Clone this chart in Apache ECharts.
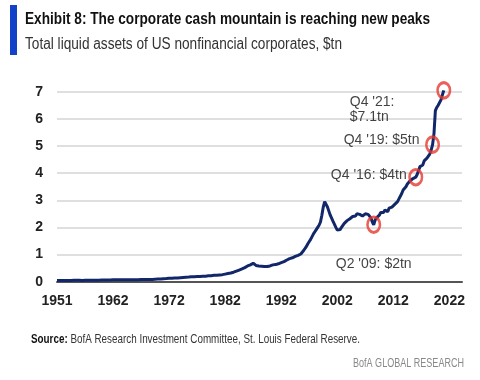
<!DOCTYPE html>
<html><head><meta charset="utf-8">
<script src="https://cdn.jsdelivr.net/npm/echarts@6/dist/echarts.min.js"></script>
<style>html,body{margin:0;padding:0;background:#fff}#c{width:480px;height:380px}</style>
</head><body><div id="c"></div>
<script>
// First point: Q4 1952, then quarterly Q1..Q4 per year up to 2021
const firstQuarter = { year: 1952, q: 4 };
const liquidAssets = [
  0.04,
  0.04,0.04,0.04,0.04,      // 1953
  0.04,0.04,0.04,0.045,     // 1954
  0.045,0.045,0.045,0.05,   // 1955
  0.05,0.05,0.045,0.05,     // 1956
  0.05,0.045,0.05,0.05,     // 1957
  0.05,0.05,0.05,0.055,     // 1958
  0.055,0.055,0.055,0.055,  // 1959
  0.055,0.055,0.055,0.06,   // 1960
  0.06,0.06,0.06,0.065,     // 1961
  0.065,0.065,0.065,0.07,   // 1962
  0.07,0.07,0.07,0.07,      // 1963
  0.07,0.07,0.07,0.075,     // 1964
  0.075,0.07,0.075,0.075,   // 1965
  0.07,0.07,0.07,0.075,     // 1966
  0.07,0.07,0.075,0.08,     // 1967
  0.08,0.08,0.08,0.085,     // 1968
  0.085,0.08,0.08,0.085,    // 1969
  0.085,0.09,0.09,0.095,    // 1970
  0.1,0.1,0.105,0.11,       // 1971
  0.11,0.115,0.12,0.125,    // 1972
  0.125,0.13,0.13,0.135,    // 1973
  0.135,0.135,0.14,0.145,   // 1974
  0.15,0.155,0.16,0.165,    // 1975
  0.17,0.17,0.175,0.18,     // 1976
  0.18,0.185,0.185,0.19,    // 1977
  0.19,0.195,0.2,0.2,       // 1978
  0.2,0.205,0.21,0.215,     // 1979
  0.215,0.22,0.23,0.235,    // 1980
  0.24,0.24,0.245,0.25,     // 1981
  0.255,0.26,0.27,0.28,     // 1982
  0.29,0.3,0.31,0.32,       // 1983
  0.33,0.35,0.37,0.39,      // 1984
  0.41,0.43,0.45,0.47,      // 1985
  0.5,0.52,0.55,0.58,       // 1986
  0.6,0.62,0.66,0.68,       // 1987
  0.64,0.6,0.62,0.58,       // 1988
  0.55,0.57,0.54,0.56,      // 1989
  0.58,0.56,0.6,0.58,       // 1990
  0.6,0.62,0.6,0.63,        // 1991
  0.64,0.66,0.68,0.7,       // 1992
  0.72,0.74,0.76,0.8,       // 1993
  0.82,0.85,0.86,0.88,      // 1994
  0.9,0.93,0.95,0.97,       // 1995
  0.98,1.02,1.08,1.15,      // 1996
  1.22,1.3,1.4,1.48,        // 1997
  1.56,1.66,1.76,1.84,      // 1998
  1.92,2.0,2.08,2.2,        // 1999
  2.45,2.75,2.95,2.88,      // 2000
  2.75,2.6,2.45,2.4,        // 2001
  2.22,2.15,2.0,1.9,        // 2002
  1.84,1.92,2.0,2.05,       // 2003
  2.15,2.2,2.25,2.3,        // 2004
  2.32,2.38,2.4,2.46,       // 2005
  2.42,2.5,2.45,2.48,       // 2006
  2.45,2.42,2.48,2.5,       // 2007
  2.52,2.48,2.45,2.35,      // 2008
  2.2,2.1,2.27,2.35,        // 2009
  2.4,2.45,2.55,2.53,       // 2010
  2.55,2.64,2.6,2.58,       // 2011
  2.71,2.68,2.75,2.8,       // 2012
  2.85,2.9,2.95,3.05,       // 2013
  3.1,3.25,3.38,3.45,       // 2014
  3.5,3.6,3.65,3.72,        // 2015
  3.75,3.8,3.78,3.85,       // 2016
  3.95,4.1,4.24,4.25,       // 2017
  4.3,4.45,4.4,4.55,        // 2018
  4.5,4.7,4.85,5.05,        // 2019
  5.45,6.3,6.42,6.5,        // 2020
  6.55,6.7,6.88,7.05        // 2021
];
const axisQuarterCount = 290;           // axis extends past last data point
const xTickLabels = ['1951','1962','1972','1982','1992','2002','2012','2022'];
const xTickEvery = 40;                  // quarters between labels
const yTicks = [0,1,2,3,4,5,6,7];
const calloutIndex = [226, 256, 268, 276];
const calloutText = ["Q2 '09: $2tn", "Q4 '16: $4tn", "Q4 '19: $5tn", "Q4 '21:\n$7.1tn"];
const calloutOffset = [[0, 39], [-47, -2], [-51, -4], [-94, 19]];
const calloutAlign = ['center', 'center', 'center', 'left'];

const categories = [];
for (let i = 0; i < axisQuarterCount; i++) {
  const k = i + firstQuarter.q - 1;
  categories.push((firstQuarter.year + Math.floor(k / 4)) + 'Q' + (k % 4 + 1));
}

const ARIAL = '"Liberation Sans", Arial, sans-serif';
const mctx = document.createElement('canvas').getContext('2d');
function textW(txt, font) { mctx.font = font; return mctx.measureText(txt).width; }
function fitScale(parts, target) {
  let w = 0; parts.forEach(p => { w += textW(p[0], p[1]); });
  return target / w;
}

const titleText = 'Exhibit 8: The corporate cash mountain is reaching new peaks';
const titleFont = 'bold 16px ' + ARIAL;
const subText = 'Total liquid assets of US nonfinancial corporates, $tn';
const subFont = '16px ' + ARIAL;
const srcBold = 'Source:';
const srcRest = ' BofA Research Investment Committee, St. Louis Federal Reserve.';
const srcBoldFont = 'bold 13.5px ' + ARIAL;
const srcFont = '13.5px ' + ARIAL;
const brandText = 'BofA GLOBAL RESEARCH';
const brandFont = '12.5px ' + ARIAL;

const chart = echarts.init(document.getElementById('c'), null, {renderer: 'canvas'});

chart.setOption({
  animation: false,
  backgroundColor: '#fff',
  grid: {left: 57, right: 18, top: 91.7, bottom: 98.3, containLabel: false},
  xAxis: {
    type: 'category',
    data: categories,
    boundaryGap: false,
    axisLine: {show: true, lineStyle: {color: '#555', width: 2}},
    axisTick: {show: false},
    axisLabel: {
      interval: (idx) => idx % xTickEvery === 0,
      formatter: (v, idx) => xTickLabels[idx / xTickEvery] || '',
      fontFamily: ARIAL, fontWeight: 'bold', fontSize: 14, color: '#222', margin: 12
    },
    splitLine: {show: false}
  },
  yAxis: {
    type: 'value', min: yTicks[0], max: yTicks[yTicks.length - 1], interval: 1,
    axisLine: {show: false}, axisTick: {show: false},
    axisLabel: {fontFamily: ARIAL, fontWeight: 'bold', fontSize: 14, color: '#222', margin: 14},
    splitLine: {lineStyle: {color: '#d4d4d4', width: 1.5}}
  },
  series: [
    {
      type: 'line', data: liquidAssets, showSymbol: false, clip: false,
      lineStyle: {color: '#12266a', width: 3}, z: 3
    },
    {
      type: 'scatter', clip: false, z: 4,
      symbol: 'circle', symbolSize: [12.5, 15.5],
      itemStyle: {color: 'rgba(0,0,0,0)', borderColor: '#e5392f', borderWidth: 2.8},
      data: calloutIndex.map((i, k) => ({
        value: [i, liquidAssets[i]],
        label: {
          show: true, position: 'inside', formatter: calloutText[k],
          offset: calloutOffset[k], align: calloutAlign[k], verticalAlign: 'middle',
          fontFamily: ARIAL, fontSize: 14, color: '#111', lineHeight: 15
        }
      }))
    }
  ],
  graphic: [
    {type: 'rect', shape: {x: 10, y: 5, width: 7, height: 50}, style: {fill: '#1242c8'}},
    {type: 'text', x: 25, y: 19.5, scaleX: fitScale([[titleText, titleFont]], 405),
      style: {text: titleText, font: titleFont, fill: '#111', verticalAlign: 'middle'}},
    {type: 'text', x: 25, y: 45, scaleX: fitScale([[subText, subFont]], 317),
      style: {text: subText, font: subFont, fill: '#333', verticalAlign: 'middle'}},
    {type: 'text', x: 31, y: 339.5, scaleX: fitScale([[srcBold, srcBoldFont], [srcRest, srcFont]], 329),
      style: {text: '{b|' + srcBold + '}{r|' + srcRest + '}', font: srcFont, fill: '#333', verticalAlign: 'middle',
      rich: {b: {font: srcBoldFont, fill: '#111'}, r: {font: srcFont, fill: '#333'}}}},
    {type: 'text', x: 464, y: 363.5, scaleX: fitScale([[brandText, brandFont]], 111),
      style: {text: brandText, font: brandFont, fill: '#888', align: 'right', verticalAlign: 'middle'}}
  ]
});
</script></body></html>
